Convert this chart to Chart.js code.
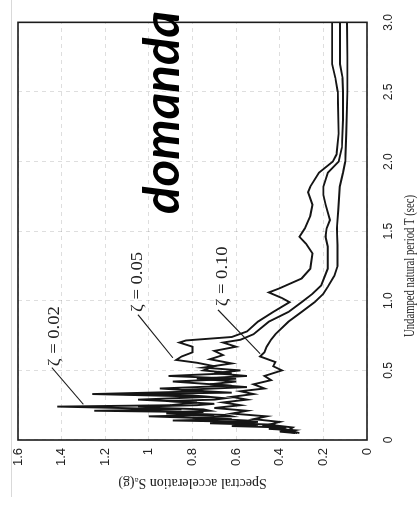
<!DOCTYPE html>
<html>
<head>
<meta charset="utf-8">
<script src="https://cdn.jsdelivr.net/npm/chart.js@4.4.1/dist/chart.umd.min.js"></script>
<style>
  html, body { margin: 0; padding: 0; background: #fff; }
  body { width: 419px; height: 510px; position: relative; overflow: hidden; }
  #edge { position: absolute; left: 11px; top: 0; height: 497px; border-left: 1px solid #d9d9d9; }
  /* the whole figure is printed turned a quarter turn to the left */
  #turn { position: absolute; left: 0; top: 0; width: 510px; height: 419px;
          transform-origin: 0 0; transform: translate(0, 510px) rotate(-90deg); }
</style>
</head>
<body>
<div id="edge"></div>
<div id="turn"><canvas id="spectrum" width="510" height="419"></canvas></div>
<script>
// Periodo T (sec) -> accelerazione spettrale Sa (g)
const periodTicks = [0, 0.5, 1.0, 1.5, 2.0, 2.5, 3.0];
const periodLabels = ['0', '0.5', '1.0', '1.5', '2.0', '2.5', '3.0'];
const accelTicks = [0, 0.2, 0.4, 0.6, 0.8, 1.0, 1.2, 1.4, 1.6];
const accelLabels = ['0', '0.2', '0.4', '0.6', '0.8', '1', '1.2', '1.4', '1.6'];
const dampingLabels = ['ζ = 0.02', 'ζ = 0.05', 'ζ = 0.10'];

const spectrum002 = [
  [0.05, 0.33], [0.06, 0.40], [0.07, 0.34], [0.08, 0.45], [0.09, 0.38], [0.10, 0.62],
  [0.11, 0.50], [0.12, 0.72], [0.13, 0.55], [0.14, 0.89], [0.15, 0.62], [0.17, 1.00],
  [0.18, 0.70], [0.19, 0.92], [0.20, 0.75], [0.21, 1.25], [0.22, 0.85], [0.24, 1.42],
  [0.25, 0.90], [0.27, 0.78], [0.29, 1.05], [0.31, 0.72], [0.33, 1.26], [0.35, 0.75],
  [0.37, 0.95], [0.39, 0.62], [0.42, 0.89], [0.44, 0.60], [0.46, 0.91], [0.48, 0.62],
  [0.50, 0.75], [0.53, 0.70], [0.555, 0.78], [0.575, 0.875], [0.60, 0.85], [0.63, 0.80],
  [0.67, 0.80], [0.70, 0.86], [0.715, 0.83], [0.74, 0.62], [0.78, 0.55], [0.85, 0.50],
  [0.92, 0.43], [0.99, 0.355], [1.02, 0.39], [1.06, 0.45], [1.09, 0.40], [1.16, 0.30],
  [1.23, 0.26], [1.34, 0.25], [1.41, 0.28], [1.46, 0.31], [1.52, 0.285], [1.61, 0.26],
  [1.69, 0.25], [1.78, 0.27], [1.82, 0.26], [1.92, 0.22], [2.00, 0.157], [2.05, 0.14],
  [2.20, 0.13], [2.50, 0.134], [2.60, 0.145], [2.70, 0.16], [2.85, 0.16], [3.00, 0.16]
];

const spectrum005 = [
  [0.05, 0.32], [0.06, 0.36], [0.07, 0.33], [0.08, 0.42], [0.09, 0.37], [0.10, 0.48],
  [0.11, 0.42], [0.12, 0.62], [0.13, 0.50], [0.14, 0.55], [0.15, 0.68], [0.16, 0.80],
  [0.17, 0.62], [0.18, 0.65], [0.19, 0.85], [0.20, 0.90], [0.21, 0.72], [0.22, 0.75],
  [0.23, 0.95], [0.24, 1.05], [0.25, 0.78], [0.26, 0.70], [0.28, 0.92], [0.29, 0.70],
  [0.30, 0.65], [0.32, 0.80], [0.33, 1.12], [0.34, 0.62], [0.36, 0.85], [0.38, 0.55],
  [0.40, 0.72], [0.42, 0.60], [0.44, 0.78], [0.46, 0.55], [0.48, 0.70], [0.50, 0.58],
  [0.52, 0.75], [0.55, 0.62], [0.58, 0.72], [0.61, 0.66], [0.64, 0.70], [0.67, 0.60],
  [0.70, 0.66], [0.72, 0.58], [0.76, 0.52], [0.85, 0.45], [0.92, 0.36], [0.99, 0.30],
  [1.05, 0.25], [1.11, 0.21], [1.23, 0.18], [1.32, 0.18], [1.39, 0.18], [1.46, 0.19],
  [1.52, 0.185], [1.58, 0.17], [1.69, 0.19], [1.76, 0.20], [1.82, 0.20], [1.92, 0.18],
  [2.00, 0.13], [2.10, 0.115], [2.30, 0.11], [2.50, 0.11], [2.60, 0.112], [2.70, 0.124],
  [2.85, 0.124], [3.00, 0.124]
];

const spectrum010 = [
  [0.05, 0.31], [0.07, 0.36], [0.09, 0.34], [0.11, 0.45], [0.13, 0.40], [0.15, 0.52],
  [0.17, 0.46], [0.19, 0.62], [0.21, 0.55], [0.23, 0.70], [0.25, 0.58], [0.27, 0.66],
  [0.29, 0.55], [0.31, 0.62], [0.33, 0.52], [0.35, 0.58], [0.37, 0.47], [0.40, 0.52],
  [0.43, 0.44], [0.46, 0.47], [0.50, 0.39], [0.53, 0.43], [0.56, 0.42], [0.60, 0.49],
  [0.63, 0.47], [0.67, 0.46], [0.72, 0.44], [0.76, 0.42], [0.85, 0.36], [0.92, 0.30],
  [0.99, 0.24], [1.05, 0.20], [1.10, 0.18], [1.18, 0.15], [1.25, 0.135], [1.40, 0.135],
  [1.52, 0.138], [1.65, 0.132], [1.82, 0.125], [1.92, 0.11], [2.00, 0.10], [2.20, 0.095],
  [2.50, 0.09], [2.75, 0.09], [3.00, 0.092]
];

// testo stretto/allargato fino a una larghezza data
function fitText(ctx, text, x, y, width) {
  const k = width / ctx.measureText(text).width;
  ctx.save();
  ctx.translate(x, y);
  ctx.scale(k, 1);
  ctx.fillText(text, 0, 0);
  ctx.restore();
}

// Etichette, linee di richiamo, titoli degli assi e cornice
const overlay = {
  id: 'overlay',
  afterDraw(chart) {
    const { ctx, chartArea: area, scales: { x, y } } = chart;
    const px = (t, sa) => [x.getPixelForValue(t), y.getPixelForValue(sa)];
    ctx.save();

    ctx.strokeStyle = '#1c1c1c';
    ctx.lineWidth = 1.6;
    ctx.strokeRect(area.left, area.top, area.right - area.left, area.bottom - area.top);

    const notes = [
      { text: dampingLabels[0], at: [0.53, 1.41], from: [0.52, 1.445], to: [0.256, 1.30] },
      { text: dampingLabels[1], at: [0.92, 1.03], from: [0.90, 1.05], to: [0.59, 0.89] },
      { text: dampingLabels[2], at: [0.96, 0.642], from: [0.935, 0.683], to: [0.62, 0.49] }
    ];
    ctx.font = '16px "Liberation Serif"';
    ctx.fillStyle = '#222';
    ctx.textAlign = 'left';
    ctx.textBaseline = 'alphabetic';
    ctx.lineWidth = 1.1;
    notes.forEach(n => {
      const [tx, ty] = px(...n.at);
      fitText(ctx, n.text, tx, ty, 60);
      ctx.beginPath();
      ctx.moveTo(...px(...n.from));
      ctx.lineTo(...px(...n.to));
      ctx.stroke();
    });

    // titolo asse T, stretto come nell'originale
    ctx.font = '14px "Liberation Serif"';
    ctx.textAlign = 'center';
    ctx.textBaseline = 'middle';
    fitText(ctx, 'Undamped natural period T (sec)', 244, 410, 142);

    // titolo asse Sa
    ctx.save();
    ctx.translate(27, (area.top + area.bottom) / 2);
    ctx.rotate(-Math.PI / 2);
    ctx.fillText('Spectral acceleration Sₐ(g)', 0, 0);
    ctx.restore();

    // scritta sovrapposta
    ctx.font = 'italic bold 50px Lato';
    ctx.fillStyle = '#000';
    ctx.textAlign = 'left';
    ctx.textBaseline = 'alphabetic';
    fitText(ctx, 'domanda', 296, 179, 203);

    ctx.restore();
  }
};

const makeSet = (label, points) => ({
  label: label,
  data: points.map(p => ({ x: p[0], y: p[1] })),
  showLine: true,
  borderColor: '#151515',
  borderWidth: 1.9,
  pointRadius: 0,
  tension: 0
});

new Chart(document.getElementById('spectrum'), {
  type: 'scatter',
  data: {
    datasets: [
      makeSet(dampingLabels[0], spectrum002),
      makeSet(dampingLabels[1], spectrum005),
      makeSet(dampingLabels[2], spectrum010)
    ]
  },
  options: {
    responsive: false,
    animation: false,
    devicePixelRatio: 1,
    layout: { padding: { top: 18, right: 7, left: 0, bottom: 0 } },
    plugins: { legend: { display: false }, tooltip: { enabled: false } },
    scales: {
      x: {
        type: 'linear', min: 0, max: 3,
        afterBuildTicks: s => { s.ticks = periodTicks.map(v => ({ value: v })); },
        afterFit: s => { s.height = 52; },
        ticks: {
          callback: (v, i) => periodLabels[i],
          padding: 14, maxRotation: 0, color: '#222',
          font: { family: 'Liberation Sans', size: 12 }
        },
        grid: { color: 'rgba(0,0,0,0.13)', drawTicks: false },
        border: { display: false, dash: [4, 4] }
      },
      y: {
        type: 'linear', min: 0, max: 1.6,
        afterBuildTicks: s => { s.ticks = accelTicks.map(v => ({ value: v })); },
        afterFit: s => { s.width = 70; },
        ticks: {
          callback: (v, i) => accelLabels[i],
          padding: 8, color: '#222',
          font: { family: 'Liberation Sans', size: 13 }
        },
        grid: { color: 'rgba(0,0,0,0.13)', drawTicks: false },
        border: { display: false, dash: [4, 4] }
      }
    }
  },
  plugins: [overlay]
});
</script>
</body>
</html>
